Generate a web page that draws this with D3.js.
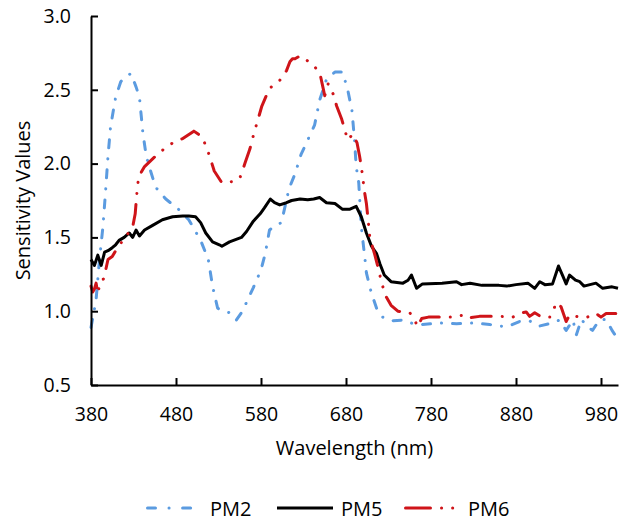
<!DOCTYPE html>
<html>
<head>
<meta charset="utf-8">
<script src="https://cdn.jsdelivr.net/npm/d3@7"></script>
<style>
  body { margin: 0; background: #fff; }
  svg { display: block; font-family: "Open Sans", sans-serif; }
  .axis-label { font-size: 20px; fill: #000; text-anchor: middle; }
  .tick text { font-size: 19.5px; fill: #000; font-family: "Open Sans", sans-serif; }
  .legend-text { font-size: 20px; fill: #000; }
</style>
</head>
<body>
<svg id="chart" width="627" height="521"></svg>
<script>
// 1: DATA
const pm2Nm = [380,383,386,390,394,397,400,403,409,415,421,427,433,437,441,445,449,456,468,483,495,509,518,523,529,536,543,551,557,563,571,580,585,590,597,604,613,620,627,635,643,649,657,667,676,682,687,690,692,695,698,702,704,710,716,723,733,747,759,770,790,810,830,849,860,870,884,896,902,908,923,931,939,947,951,957,963,970,978,986,993,1000];
const pm2Val = [0.89,0.98,1.08,1.35,1.57,1.80,2.05,2.25,2.45,2.555,2.59,2.61,2.52,2.45,2.21,2.05,1.97,1.84,1.76,1.69,1.62,1.48,1.35,1.17,1.02,1.00,0.99,0.94,0.99,1.06,1.16,1.28,1.39,1.55,1.58,1.60,1.83,1.93,2.06,2.16,2.26,2.43,2.57,2.62,2.62,2.50,2.36,2.16,1.98,1.87,1.57,1.37,1.26,1.12,1.02,0.96,0.935,0.94,0.915,0.91,0.92,0.915,0.92,0.91,0.90,0.895,0.93,0.935,0.91,0.90,0.92,0.94,0.87,0.94,0.84,0.945,0.90,0.87,0.94,0.945,0.87,0.81];

const pm5Nm = [380,384,388,392,396,400,405,409,413,419,425,429,433,437,443,452,464,476,488,495,503,509,515,523,531,534,543,557,563,571,579,584,591,596,602,610,616,626,635,642,649,657,667,676,684,692,698,704,710,716,720,725,733,747,753,757,763,770,793,810,816,826,840,860,869,880,894,902,908,914,923,930,935,939,943,950,955,960,974,982,993,1000];
const pm5Val = [1.35,1.31,1.38,1.31,1.40,1.41,1.43,1.45,1.48,1.50,1.53,1.50,1.55,1.51,1.55,1.58,1.62,1.64,1.645,1.645,1.64,1.60,1.53,1.47,1.45,1.44,1.47,1.50,1.54,1.61,1.66,1.70,1.76,1.735,1.72,1.735,1.75,1.76,1.755,1.76,1.77,1.735,1.73,1.69,1.69,1.71,1.64,1.53,1.44,1.39,1.32,1.245,1.20,1.19,1.21,1.245,1.155,1.185,1.19,1.20,1.18,1.19,1.175,1.175,1.17,1.18,1.19,1.155,1.20,1.18,1.185,1.306,1.24,1.185,1.245,1.21,1.20,1.17,1.19,1.155,1.165,1.155];

const pm6Nm = [380,382,384,386,388,391,395,400,405,411,419,429,432,434,436,443,454,464,476,488,501,511,519,525,534,549,555,561,567,571,575,581,590,601,610,614,617,620,626,639,649,652,655,659,665,669,675,682,688,693,696,698,700,702,704,706,708,714,718,722,727,733,741,755,761,764,769,777,790,806,820,825,837,860,876,888,892,896,902,910,920,928,933,939,943,955,964,974,980,986,1000];
const pm6Val = [1.17,1.13,1.15,1.19,1.12,1.20,1.22,1.35,1.37,1.43,1.49,1.57,1.66,1.80,1.91,1.98,2.04,2.09,2.14,2.17,2.22,2.18,2.06,1.95,1.87,1.88,1.90,2.00,2.10,2.19,2.27,2.39,2.51,2.555,2.63,2.69,2.71,2.71,2.73,2.68,2.62,2.54,2.46,2.54,2.47,2.39,2.30,2.16,2.20,2.14,2.05,1.98,1.89,1.80,1.73,1.62,1.50,1.38,1.29,1.19,1.10,1.04,1.00,0.99,0.94,0.895,0.95,0.96,0.96,0.96,0.975,0.955,0.965,0.965,0.96,0.99,0.995,0.965,0.99,0.96,0.96,1.06,1.03,0.93,0.975,0.96,0.96,0.985,0.96,0.985,0.985];

const seriesNames = ["PM2", "PM5", "PM6"];
const xTicks = [380, 480, 580, 680, 780, 880, 980];
const yTicks = [0.5, 1.0, 1.5, 2.0, 2.5, 3.0];

// 2: LAYOUT
const margin = { top: 16, right: 9, bottom: 136, left: 91 };
const width = 627 - margin.left - margin.right;
const height = 521 - margin.top - margin.bottom;

const svg = d3.select("#chart")
    .append("g")
    .attr("transform", `translate(${margin.left},${margin.top})`);

const zip = (xs, ys) => xs.map((d, i) => ({ nm: d, v: ys[i] }));
const series = [
    { name: seriesNames[0], data: zip(pm2Nm, pm2Val), color: "#5B9BE0",
      dash: "8,11,0.1,11", legendDash: "8,13.5,0.1,13.5", legendLen: 46 },
    { name: seriesNames[1], data: zip(pm5Nm, pm5Val), color: "#000000",
      dash: null, legendDash: null, legendLen: 56 },
    { name: seriesNames[2], data: zip(pm6Nm, pm6Val), color: "#CF1419",
      dash: "20,11,0.1,11,0.1,11", legendDash: "25,11,0.1,11,0.1,11", legendLen: 53 }
];

// 3: SCALES
const x = d3.scaleLinear().domain([380, 1000]).range([0, width]);
const y = d3.scaleLinear().domain([0.5, 3.0]).range([height, 0]);

// 4: PLOT LINES
const line = d3.line()
    .x(d => x(d.nm))
    .y(d => y(d.v));

series.forEach(s => {
    svg.append("path")
        .datum(s.data)
        .attr("fill", "none")
        .attr("stroke", s.color)
        .attr("stroke-width", 3)
        .attr("stroke-linejoin", "round")
        .attr("stroke-linecap", s.dash ? "round" : "butt")
        .attr("stroke-dasharray", s.dash)
        .attr("d", line);
});

// 5: AXES (ticks point inward, like the source)
const xAxis = svg.append("g")
    .attr("transform", `translate(0, ${height})`)
    .call(d3.axisBottom(x).tickValues(xTicks).tickSizeInner(-7).tickSizeOuter(0).tickPadding(22));

const yAxis = svg.append("g")
    .call(d3.axisLeft(y).tickValues(yTicks).tickFormat(d3.format(".1f"))
        .tickSizeInner(-7).tickSizeOuter(0).tickPadding(20));

[xAxis, yAxis].forEach(a => {
    a.select(".domain").attr("stroke", "#000").attr("stroke-width", 2);
    a.selectAll(".tick line").attr("stroke", "#000").attr("stroke-width", 2);
});

// 6: LABELS
svg.append("text")
    .attr("class", "axis-label")
    .attr("x", width / 2)
    .attr("y", 455 - margin.top)
    .text("Wavelength (nm)");

svg.append("text")
    .attr("class", "axis-label")
    .attr("transform", "rotate(-90)")
    .attr("x", -height / 2)
    .attr("y", 30 - margin.left)
    .text("Sensitivity Values");

// 7: LEGEND
const legendX = [146, 277, 404];
const legend = d3.select("#chart").append("g");
series.forEach((s, i) => {
    const g = legend.append("g").attr("transform", `translate(${legendX[i]}, 508)`);
    g.append("line")
        .attr("x1", s.dash ? 1.5 : 0)
        .attr("x2", s.legendLen)
        .attr("stroke", s.color)
        .attr("stroke-width", 3)
        .attr("stroke-linecap", s.dash ? "round" : "butt")
        .attr("stroke-dasharray", s.legendDash);
    g.append("text")
        .attr("class", "legend-text")
        .attr("x", 64)
        .attr("y", 8)
        .text(s.name);
});
</script>
</body>
</html>
